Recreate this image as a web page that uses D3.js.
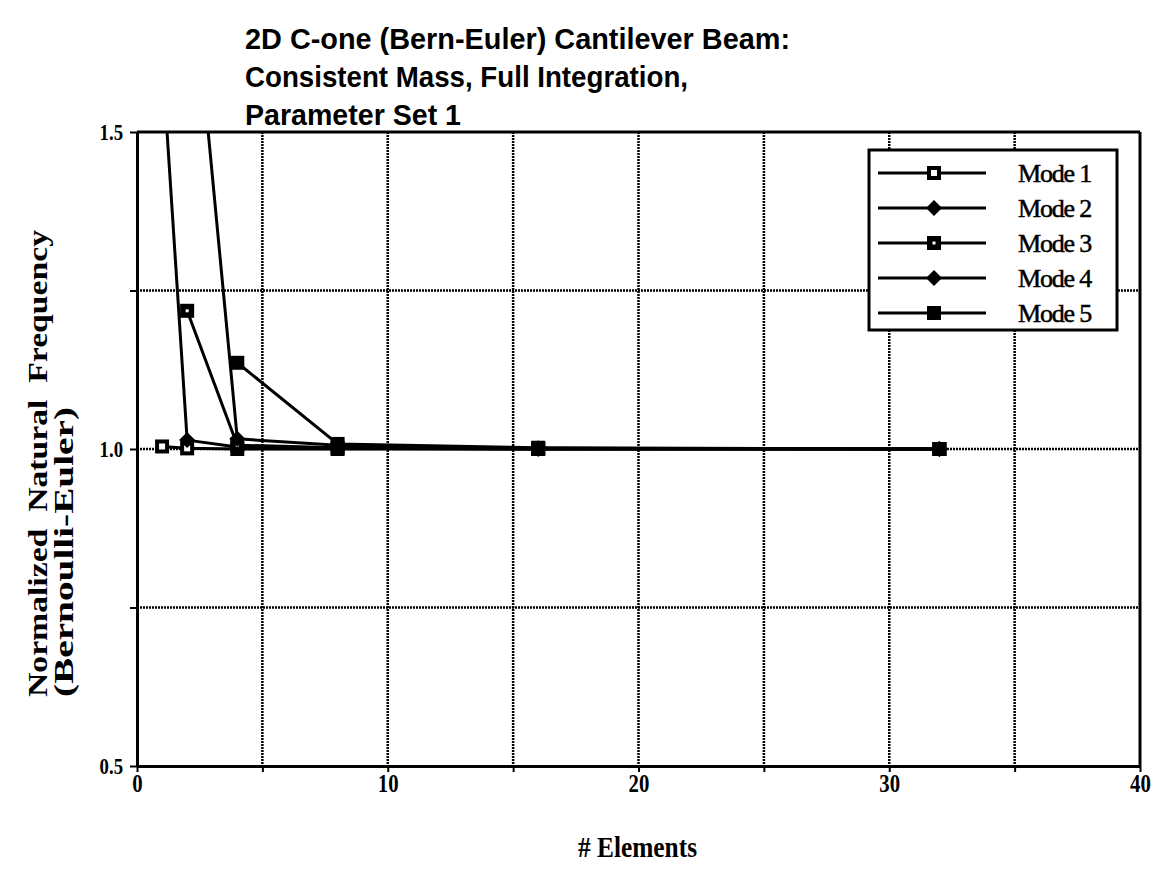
<!DOCTYPE html>
<html>
<head>
<meta charset="utf-8">
<script src="https://cdn.jsdelivr.net/npm/d3@7"></script>
<style>
  html, body { margin: 0; padding: 0; background: #fff; }
  svg { display: block; }
</style>
</head>
<body>
<svg id="chart" width="1153" height="886"></svg>
<script>
// ---- Data ----
const titleLines = [
  "2D C-one (Bern-Euler) Cantilever Beam:",
  "Consistent Mass, Full Integration,",
  "Parameter Set 1"
];
const elements = [1, 2, 4, 8, 16, 32];
const mode1 = [1.004, 1.001, 1.000, 1.000, 1.000, 1.000];
const mode2 = [1.62, 1.014, 1.003, 1.001, 1.000, 1.000];
const mode3 = [null, 1.218, 1.006, 1.002, 1.000, 1.000];
const mode4 = [null, 1.85, 1.016, 1.006, 1.001, 1.000];
const mode5 = [null, null, 1.136, 1.008, 1.002, 1.000];
const seriesNames = ["Mode 1", "Mode 2", "Mode 3", "Mode 4", "Mode 5"];
const seriesValues = [mode1, mode2, mode3, mode4, mode5];
const seriesMarkers = ["squareHollow", "diamond", "squareDot", "diamond", "square"];
const xTicks = [0, 10, 20, 30, 40];
const yTicks = [0.5, 1.0, 1.5];
const xLabel = "# Elements";
const yLabelLines = ["Normalized  Natural  Frequency", "(Bernoulli-Euler)"];

// ---- Layout ----
const svg = d3.select("#chart");
const pL = 137, pR = 1140, pT = 132, pB = 766;
const x = d3.scaleLinear().domain([0, 40]).range([pL, pR]);
const y = d3.scaleLinear().domain([0.5, 1.5]).range([pB, pT]);
const serif = "'Liberation Serif', 'Times New Roman', serif";

// Title
const titleLens = [545, 443, 216];
svg.append("g").selectAll("text").data(titleLines).join("text")
  .attr("x", 245)
  .attr("y", (d, i) => 49 + i * 38)
  .attr("font-family", "'Liberation Sans', Arial, sans-serif")
  .attr("font-weight", "bold")
  .attr("font-size", 29)
  .attr("textLength", (d, i) => titleLens[i])
  .attr("lengthAdjust", "spacingAndGlyphs")
  .text(d => d);

// Clip
svg.append("clipPath").attr("id", "plotclip")
  .append("rect").attr("x", pL).attr("y", pT).attr("width", pR - pL).attr("height", pB - pT);

// Grid
const grid = svg.append("g").attr("stroke", "#000").attr("stroke-width", 2.5).attr("stroke-dasharray", "2,1");
grid.selectAll("line.v").data(d3.range(5, 40, 5)).join("line").attr("class", "v")
  .attr("x1", d => x(d)).attr("x2", d => x(d)).attr("y1", pT).attr("y2", pB);
grid.selectAll("line.h").data([0.75, 1.0, 1.25]).join("line").attr("class", "h")
  .attr("x1", pL).attr("x2", pR).attr("y1", d => y(d)).attr("y2", d => y(d));

// Frame top/right
svg.append("line").attr("x1", pL).attr("x2", pR).attr("y1", pT).attr("y2", pT)
  .attr("stroke", "#000").attr("stroke-width", 3);
svg.append("line").attr("x1", pR).attr("x2", pR).attr("y1", pT).attr("y2", pB)
  .attr("stroke", "#000").attr("stroke-width", 3);

// Axes
const xAxis = d3.axisBottom(x).tickValues(d3.range(0, 41, 5)).tickSize(6).tickSizeOuter(0).tickPadding(3)
  .tickFormat(d => xTicks.includes(d) ? d3.format("d")(d) : "");
const gx = svg.append("g").attr("transform", `translate(0,${pB})`).call(xAxis);
gx.select(".domain").attr("stroke-width", 3);
gx.selectAll(".tick line").attr("stroke-width", 2);
gx.selectAll(".tick text")
  .attr("font-family", serif)
  .attr("font-weight", "bold").attr("font-size", 26).attr("fill", "#000")
  .attr("y", 8).attr("dy", "0.68em")
  .attr("transform", "scale(0.8,1)");

const yAxis = d3.axisLeft(y).tickValues([0.5, 0.75, 1.0, 1.25, 1.5]).tickSize(7).tickSizeOuter(0).tickPadding(6)
  .tickFormat(d => yTicks.includes(d) ? d3.format(".1f")(d) : "");
const gy = svg.append("g").attr("transform", `translate(${pL},0)`).call(yAxis);
gy.select(".domain").attr("stroke-width", 3);
gy.selectAll(".tick line").attr("stroke-width", 2);
gy.selectAll(".tick text")
  .attr("font-family", serif)
  .attr("font-weight", "bold").attr("font-size", 24).attr("fill", "#000")
  .attr("x", -14 / 0.78)
  .attr("transform", "scale(0.78,1)");

// Axis labels
svg.append("text").attr("x", 578).attr("y", 857)
  .attr("font-family", serif)
  .attr("font-weight", "bold").attr("font-size", 29)
  .attr("textLength", 119).attr("lengthAdjust", "spacingAndGlyphs")
  .text(xLabel);

const yLabLens = [467, 290];
const yLabX = [47, 73];
yLabelLines.forEach((t, i) => {
  svg.append("text")
    .attr("transform", `translate(${yLabX[i]},697) rotate(-90)`)
    .attr("font-family", serif)
    .attr("font-weight", "bold").attr("font-size", 28)
    .attr("textLength", yLabLens[i]).attr("lengthAdjust", "spacingAndGlyphs")
    .style("white-space", "pre")
    .text(t);
});

// Markers
function drawMarker(g, type, cx, cy) {
  if (type === "diamond") {
    g.append("path").attr("d", "M0,-8L8,0L0,8L-8,0Z")
      .attr("transform", `translate(${cx},${cy})`).attr("fill", "#000");
  } else {
    g.append("rect").attr("x", cx - 7).attr("y", cy - 7).attr("width", 14).attr("height", 14).attr("fill", "#000");
    if (type === "squareHollow") {
      g.append("rect").attr("x", cx - 3).attr("y", cy - 3).attr("width", 6).attr("height", 6).attr("fill", "#fff");
    } else if (type === "squareDot") {
      g.append("rect").attr("x", cx - 1.5).attr("y", cy - 1.5).attr("width", 3).attr("height", 3).attr("fill", "#fff");
    }
  }
}

// Series
const plot = svg.append("g").attr("clip-path", "url(#plotclip)");
const line = d3.line().x(d => x(d[0])).y(d => y(d[1]));
seriesValues.forEach((vals, si) => {
  const pts = elements.map((e, i) => [e, vals[i]]).filter(d => d[1] != null);
  plot.append("path").datum(pts).attr("d", line)
    .attr("fill", "none").attr("stroke", "#000").attr("stroke-width", 3).attr("stroke-linejoin", "round");
  const mg = plot.append("g");
  pts.forEach(p => drawMarker(mg, seriesMarkers[si], x(p[0]), y(p[1])));
});

// Legend
const lg = svg.append("g");
lg.append("rect").attr("x", 869).attr("y", 150).attr("width", 248).attr("height", 180)
  .attr("fill", "#fff").attr("stroke", "#000").attr("stroke-width", 3);
seriesNames.forEach((name, i) => {
  const ly = 173 + i * 35;
  lg.append("line").attr("x1", 878).attr("x2", 986).attr("y1", ly).attr("y2", ly)
    .attr("stroke", "#000").attr("stroke-width", 3);
  drawMarker(lg, seriesMarkers[i], 934, ly);
  lg.append("text").attr("x", 1018).attr("y", ly + 9)
    .attr("font-family", serif)
    .attr("font-size", 26).attr("letter-spacing", -1.2)
    .attr("stroke", "#000").attr("stroke-width", 0.5)
    .text(name);
});
</script>
</body>
</html>
